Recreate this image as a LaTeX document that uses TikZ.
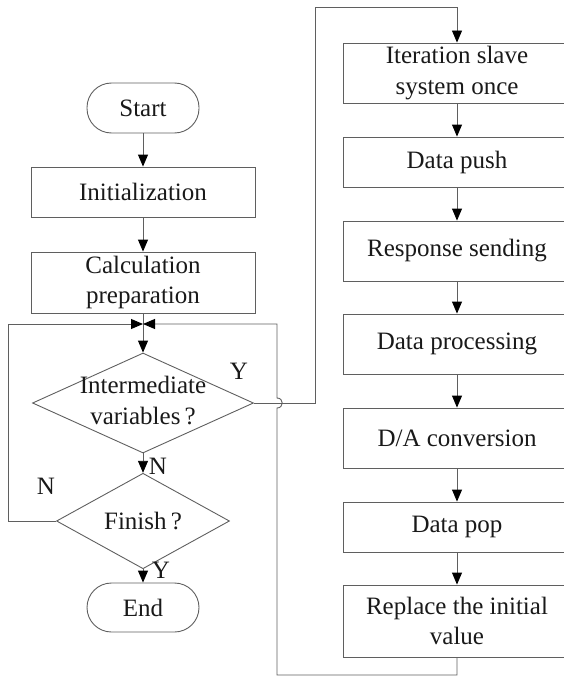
\documentclass[tikz,border=0pt]{standalone}
\usepackage{fontspec}
\setmainfont{Liberation Serif}
\usetikzlibrary{shapes.geometric,arrows.meta}
\newcommand\flatbox[1]{\makebox[0pt]{\raisebox{-6pt}[0pt][0pt]{\begin{tabular}{@{}c@{}}#1\end{tabular}}}}
\definecolor{linegray}{RGB}{95,95,95}
\begin{document}
\begin{tikzpicture}[x=1pt,y=-1pt,
  every node/.style={font={\fontsize{25}{30.5}\selectfont}, text=black!90},
  proc/.style={draw=linegray, line width=0.9pt, rectangle, inner sep=2pt, align=center, minimum width=#1},
  proc/.default=224pt,
  term/.style={draw=linegray, line width=0.9pt, rectangle, rounded corners=24.5pt, minimum width=112pt, inner sep=2pt},
  dec/.style={draw=linegray, line width=0.9pt, diamond, inner sep=0pt, align=center},
  flow/.style={draw=linegray, line width=0.9pt, -{Triangle[length=12pt,width=10pt,fill=black,color=black]}},
  link/.style={draw=linegray, line width=0.9pt},
  lab/.style={inner sep=0pt}
]
\useasboundingbox (0,0) rectangle (564,677);

% left column
\node[term, minimum height=50pt] (start) at (143,108) {Start};
\node[proc, minimum height=50pt] (init) at (143,192) {Initialization};
\node[proc, minimum height=61pt] (calc) at (143,282.5) {Calculation\\preparation};
\node[dec, minimum width=221pt, minimum height=100pt] (d1) at (143,403) {\flatbox{Intermediate\\variables\,?}};
\node[dec, minimum width=173pt, minimum height=76pt] (d2) at (143,521) {Finish\,?};
\node[term, minimum height=49pt] (end) at (143,607.5) {End};

% right column
\node[proc=228pt, minimum height=60pt] (iter) at (457,73) {Iteration slave\\system once};
\node[proc=228pt, minimum height=50pt] (push) at (457,162) {Data push};
\node[proc=228pt, minimum height=60pt] (resp) at (457,251) {Response sending};
\node[proc=228pt, minimum height=60pt] (dproc) at (457,344) {Data processing};
\node[proc=228pt, minimum height=60pt] (da) at (457,438) {D/A conversion};
\node[proc=228pt, minimum height=50pt] (pop) at (457,527) {Data pop};
\node[proc=228pt, minimum height=72pt] (repl) at (457,621) {Replace the initial\\value};

% coordinates
\coordinate (J) at (143,324);
\coordinate (LL) at (8,324);
\coordinate (RR) at (277,324);
\coordinate (RB) at (277,675);
\coordinate (JB) at (277,408);
\coordinate (JT) at (277,398);
\coordinate (YT) at (315,7);

% connectors left
\draw[flow] (start) -- (init);
\draw[flow] (init) -- (calc);
\draw[link] (calc.south) -- (J);
\draw[flow] (J) -- (d1.north);
\draw[flow] (d1.south) -- (d2.north);
\draw[flow] (d2.south) -- (end.north);
\draw[flow] (d2.west) -| (LL) -- (J);

% Y branch
\draw[flow] (d1.east) -| (YT) -| (iter.north);

% right column
\draw[flow] (iter) -- (push);
\draw[flow] (push) -- (resp);
\draw[flow] (resp) -- (dproc);
\draw[flow] (dproc) -- (da);
\draw[flow] (da) -- (pop);
\draw[flow] (pop) -- (repl);

% return
\draw[flow] (repl.south) |- (RB) -- (JB) .. controls (284,408) and (284,398) .. (JT) -- (RR) -- (J);

% labels
\node[lab] (ly1) at (239,371) {Y};
\node[lab] (ln1) at (158,466) {N};
\node[lab] (ln2) at (46,486) {N};
\node[lab] (ly2) at (161,570) {Y};
\end{tikzpicture}
\end{document}
